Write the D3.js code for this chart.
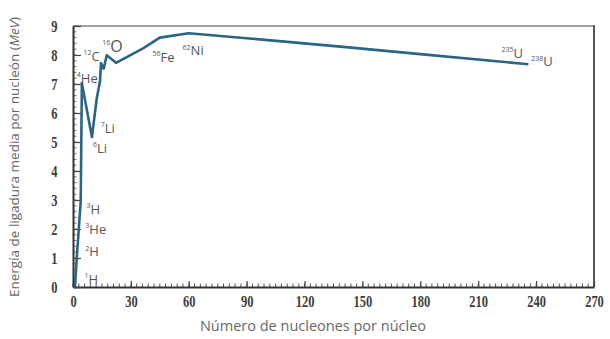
<!DOCTYPE html>
<html>
<head>
<meta charset="utf-8">
<script src="https://cdn.jsdelivr.net/npm/d3@7"></script>
<style>
  body { margin: 0; background: #fff; }
  svg { display: block; }
</style>
</head>
<body>
<svg id="chart" width="610" height="339"></svg>
<script>
// nucleon number A vs binding energy per nucleon (MeV)
var massNumbers = [1, 2, 4, 4.6, 9.8, 12.3, 14, 14.5, 15.9, 17.5, 22.3, 36.3, 45, 60, 90, 140, 180, 236];
var bindingEnergy = [0, 1.05, 2.95, 7.03, 5.17, 6.5, 7.1, 7.72, 7.53, 7.99, 7.73, 8.23, 8.6, 8.75, 8.58, 8.28, 8.03, 7.68];

var xTicks = [0, 30, 60, 90, 120, 150, 180, 210, 240, 270];
var yTicks = [0, 1, 2, 3, 4, 5, 6, 7, 8, 9];

// isotope labels: [superscript, symbol, A, E] (placed near the curve)
var isotopes = [
    ["1", "H", 6.0, 0.21],
    ["2", "H", 6.4, 1.15],
    ["3", "He", 6.4, 1.93],
    ["3", "H", 7.0, 2.6],
    ["4", "He", 2.0, 7.14],
    ["6", "Li", 10.3, 4.72],
    ["7", "Li", 14.4, 5.41],
    ["12", "C", 5.4, 7.88],
    ["16", "O", 15.2, 8.25],
    ["56", "Fe", 41.2, 7.85],
    ["62", "Ni", 56.8, 8.08],
    ["235", "U", 222, 8.0],
    ["238", "U", 237.5, 7.7]
];

var margin = { top: 26, right: 16, bottom: 52, left: 73 };
var width = 610 - margin.left - margin.right;
var height = 339 - margin.top - margin.bottom;

var svg = d3.select("#chart");
var g = svg.append("g")
    .attr("transform", "translate(" + margin.left + "," + margin.top + ")");

var x = d3.scaleLinear().domain([0, 270]).range([0, width]);
var y = d3.scaleLinear().domain([0, 9]).range([height, 0]);

// frame
g.append("line").attr("x1", 0).attr("x2", width).attr("y1", 0).attr("y2", 0)
    .attr("stroke", "#a0a0a0").attr("stroke-width", 2);
g.append("line").attr("x1", width).attr("x2", width).attr("y1", -1).attr("y2", height)
    .attr("stroke", "#555").attr("stroke-width", 2);

// minor ticks
g.selectAll(".xminor")
    .data(d3.range(0, 271, 3))
    .enter().append("line")
    .attr("x1", function (d) { return x(d); }).attr("x2", function (d) { return x(d); })
    .attr("y1", height).attr("y2", height - 3.5)
    .attr("stroke", "#555").attr("stroke-width", 1);
g.selectAll(".yminor")
    .data(d3.range(0, 9.01, 0.2))
    .enter().append("line")
    .attr("y1", function (d) { return y(d); }).attr("y2", function (d) { return y(d); })
    .attr("x1", 0).attr("x2", 3.5)
    .attr("stroke", "#777").attr("stroke-width", 1);

// X Axis
var xAxis = g.append("g")
    .attr("transform", "translate(0," + height + ")")
    .call(d3.axisBottom(x).tickValues(xTicks).tickSizeInner(-6).tickSizeOuter(0).tickPadding(8));
// Y Axis
var yAxis = g.append("g")
    .call(d3.axisLeft(y).tickValues(yTicks).tickSizeInner(-8).tickSizeOuter(0).tickPadding(10));

[xAxis, yAxis].forEach(function (a) {
    a.attr("font-family", null);
    a.select(".domain").attr("stroke", "#333").attr("stroke-width", 2);
    a.selectAll(".tick line").attr("stroke", "#444").attr("stroke-width", 1.2);
    a.selectAll(".tick text")
        .attr("fill", "#3c3c3c")
        .attr("font-family", "Liberation Serif")
        .attr("font-size", "16px")
        .attr("font-weight", "bold")
        .attr("transform", "scale(0.78,1)");
});
xAxis.selectAll(".tick text").attr("dy", "0.72em");
yAxis.selectAll(".tick text").attr("x", -20);

// curve
var pts = massNumbers.map(function (a, i) { return [a, bindingEnergy[i]]; });
var valueline = d3.line()
    .x(function (d) { return x(d[0]); })
    .y(function (d) { return y(d[1]); });
g.append("path")
    .datum(pts)
    .attr("d", valueline)
    .attr("fill", "none")
    .attr("stroke", "#2b6585")
    .attr("stroke-width", 2.6)
    .attr("stroke-linejoin", "round");

// isotope labels
isotopes.forEach(function (d) {
    var big = d[1] === "O";
    var t = g.append("text")
        .attr("x", x(d[2]))
        .attr("y", y(d[3]))
        .attr("fill", "#555")
        .style("font-family", "'Open Sans', 'Liberation Sans', sans-serif")
        .style("font-size", big ? "16px" : "13px");
    t.append("tspan").text(d[0]).attr("dy", "-0.45em").style("font-size", "7px");
    t.append("tspan").text(d[1]).attr("dy", "0.45em");
});

// axis titles
svg.append("text")
    .attr("x", 313).attr("y", 331)
    .attr("text-anchor", "middle")
    .attr("fill", "#666")
    .style("font-family", "'Open Sans', 'Liberation Sans', sans-serif")
    .style("font-size", "14.5px")
    .text("Número de nucleones por núcleo");

var yt = svg.append("text")
    .attr("transform", "translate(19,157) rotate(-90)")
    .attr("text-anchor", "middle")
    .attr("fill", "#666")
    .style("font-family", "'Open Sans', 'Liberation Sans', sans-serif")
    .style("font-size", "13.5px");
yt.append("tspan").text("Energía de ligadura media  por nucleón (");
yt.append("tspan").text("MeV").style("font-style", "italic");
yt.append("tspan").text(")");
</script>
</body>
</html>
